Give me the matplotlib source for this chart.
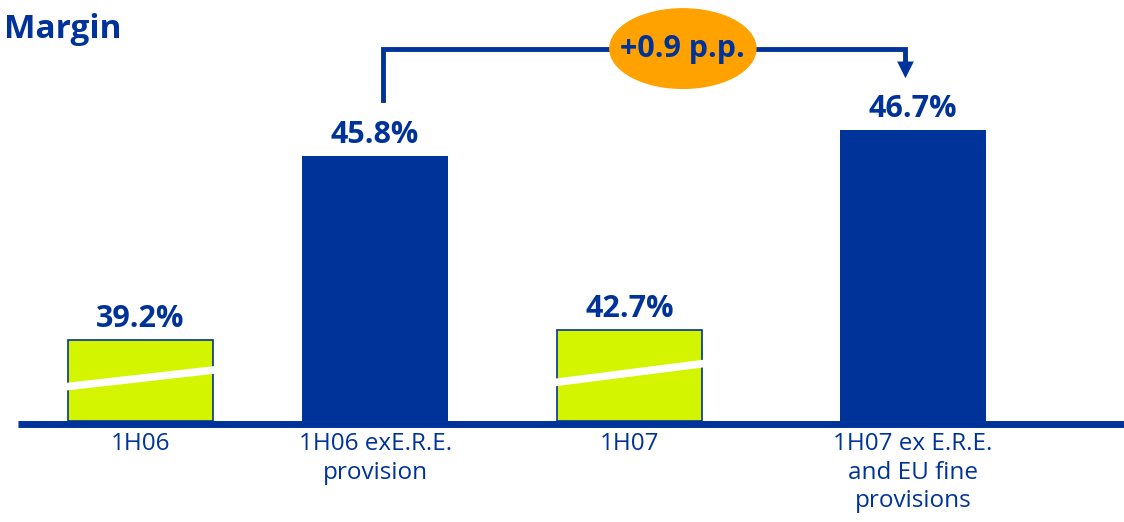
import matplotlib.pyplot as plt
from matplotlib.patches import Ellipse

# data
categories = ["1H06", "1H06 exE.R.E.\nprovision", "1H07", "1H07 ex E.R.E.\nand EU fine\nprovisions"]
margin = [39.2, 45.8, 42.7, 46.7]
labels = ["39.2%", "45.8%", "42.7%", "46.7%"]
broken = [True, False, True, False]
# scale removed at the white break of the broken bars (p.p.)
axis_cut = [-0.25, 0.0, 2.9, 0.0]
delta_label = "+0.9 p.p."

# style
blue = "#003399"
green = "#D4F500"
orange = "#FFA200"
plt.rcParams["font.family"] = ["Open Sans", "DejaVu Sans"]

xpos = [0, 0.92, 1.918, 3.03]
width = 0.57
base = 36.65

fig = plt.figure(figsize=(11.24, 5.22), dpi=100)
ax = fig.add_axes([0, 0, 1, 1])
ax.set_xlim(-0.551, 3.857)
ax.set_ylim(33.15, 51.2)
ax.axis("off")

for x, v, lab, brk, cut in zip(xpos, margin, labels, broken, axis_cut):
    top = v - cut
    if brk:
        ax.bar(x, top - base, width, bottom=base, color=green, edgecolor=blue, linewidth=1.2, zorder=2)
        h = top - base
        ax.plot([x - width / 2 - 0.01, x + width / 2 + 0.01],
                [base + 0.42 * h, base + 0.63 * h], color="white", lw=5.5, zorder=3,
                solid_capstyle="butt")
    else:
        ax.bar(x, top - base, width, bottom=base, color=blue, zorder=2)
    ax.text(x, top + 0.2, lab, ha="center", va="bottom", fontsize=22,
            fontweight="bold", color=blue)

# baseline
ax.plot([-0.48, 3.86], [base - 0.12, base - 0.12], color=blue, lw=5, zorder=4,
        solid_capstyle="butt")

for x, c in zip(xpos, categories):
    ax.text(x, base - 0.4, c, ha="center", va="top", fontsize=17.5, color=blue,
            linespacing=1.25)

# bracket with arrow
x0 = xpos[1] + 0.03
x1 = xpos[3] - 0.03
y_top = 49.5
ax.plot([x0, x0, x1, x1], [47.75, y_top, y_top, 48.9], color=blue, lw=3.5,
        solid_joinstyle="miter", zorder=5)
ax.annotate("", xy=(x1, 48.4), xytext=(x1, 49.0),
            arrowprops=dict(arrowstyle="-|>,head_width=0.4,head_length=0.8",
                            mutation_scale=15, color=blue, lw=0), zorder=5)
ax.add_patch(Ellipse((2.127, 49.52), 0.573, 2.75, color=orange, zorder=6))
ax.text(2.127, 49.52, delta_label, ha="center", va="center", fontsize=22,
        fontweight="bold", color=blue, zorder=7)

fig.text(0.004, 0.943, "Margin", ha="left", va="center", fontsize=24,
         fontweight="bold", color=blue)

fig.savefig("out.png", dpi=100)
